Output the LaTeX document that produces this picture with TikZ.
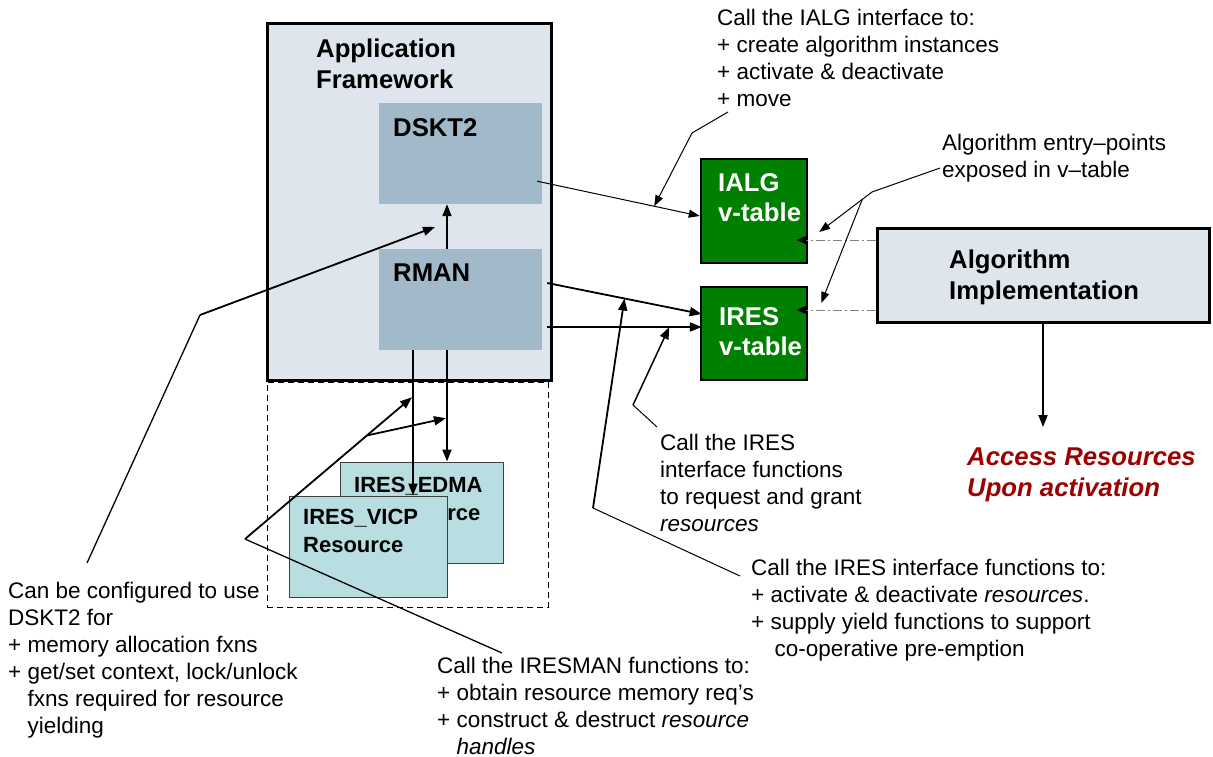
\documentclass[tikz,border=0pt]{standalone}
\usepackage{fontspec}
\setmainfont{Liberation Sans}
\usetikzlibrary{arrows.meta, calc}
\definecolor{framefill}{HTML}{DFE5EC}
\definecolor{modulefill}{HTML}{A2B9CA}
\definecolor{resourcefill}{HTML}{B8DEE2}
\definecolor{vtablegreen}{HTML}{008000}
\definecolor{accessred}{HTML}{9C0000}
\newcommand{\plusgap}{\phantom{+~}}

\begin{document}
\begin{tikzpicture}[x=1pt, y=-1pt, >={Triangle[length=12pt, width=9pt]},
    note/.style={anchor=north west, inner sep=0pt, align=left, font=\fontsize{22.5}{27}\selectfont},
    lbl/.style={anchor=north west, inner sep=0pt, align=left, font=\fontsize{25.7}{30.5}\selectfont\bfseries},
    reslbl/.style={anchor=north west, inner sep=0pt, align=left, font=\fontsize{22}{28}\selectfont\bfseries},
    framebox/.style={draw=black, line width=3pt, fill=framefill, inner sep=0pt},
    modbox/.style={fill=modulefill, minimum width=163pt, minimum height=101pt, inner sep=0pt},
    resbox/.style={draw=black!75, line width=1pt, fill=resourcefill, minimum height=101pt, inner sep=0pt},
    vtbox/.style={draw=black, line width=2.5pt, fill=vtablegreen, minimum width=106pt, inner sep=0pt},
    link/.style={->, line width=1.8pt},
    thinlink/.style={->, line width=1pt, >={Triangle[length=11pt, width=8pt]}},
    callout/.style={line width=1pt},
    entry/.style={->, draw=gray, line width=1pt, dash pattern=on 9pt off 3pt on 2pt off 3pt,
        >={Triangle[length=10pt, width=8pt, color=black]}}]
    \useasboundingbox (0,0) rectangle (1213,757);

    % ── Application framework ───────────────────────────────────────
    \node[framebox, minimum width=284pt, minimum height=356pt] (appfw) at (409,202) {};
    \node[draw, line width=1pt, dash pattern=on 6pt off 4pt, minimum width=281pt, minimum height=225pt] (resgroup) at (407.5,494.5) {};
    \node[modbox] (dskt) at (460.5,153.5) {};
    \node[modbox] (rman) at (460.5,299.5) {};
    \node[lbl] (appfwlbl) at (316,39) {Application\\Framework};
    \node[lbl] (dsktlbl) at (393,118) {DSKT2};
    \node[lbl] (rmanlbl) at (393,264) {RMAN};

    % Resources (EDMA behind VICP)
    \node[resbox, minimum width=163pt] (edma) at (421.5,512.5) {};
    \node[reslbl] (edmalbl) at (354,477) {IRES\_EDMA\\\hspace*{26pt}Resource};
    \node[resbox, minimum width=158pt] (vicp) at (368,546.5) {};
    \node[reslbl] (vicplbl) at (303,509) {IRES\_VICP\\Resource};

    % ── v-tables and algorithm ──────────────────────────────────────
    \node[vtbox, minimum height=104pt] (ialg) at (754,211) {};
    \node[vtbox, minimum height=93pt] (ires) at (754,333.5) {};
    \node[lbl, text=white] (ialglbl) at (718,173) {IALG\\v-table};
    \node[lbl, text=white] (ireslbl) at (719,307) {IRES\\v-table};
    \node[framebox, minimum width=332pt, minimum height=94pt] (algimpl) at (1043,275) {};
    \node[lbl] (algimpllbl) at (949,250) {Algorithm\\Implementation};
    \node[lbl, font=\fontsize{25.7}{30.5}\selectfont\bfseries\itshape, text=accessred] (accesslbl) at (967,448) {Access Resources\\Upon activation};

    % ── Connectors ──────────────────────────────────────────────────
    \draw[thinlink] ([shift={(-5,-23)}]dskt.south east) -- coordinate[pos=0.72] (ialgmark) ([shift={(0,5)}]ialg.west);
    \draw[link] ([shift={(5,-16.5)}]rman.east) -- coordinate[pos=0.5] (iresdiag) ([shift={(2,-19.5)}]ires.west);
    \draw[link] ([shift={(5,27.5)}]rman.east) -- coordinate[pos=0.79] (ireshor) ([shift={(2,-6.5)}]ires.west);
    \draw[link] ([xshift=-13.5pt]rman.north) -- ([xshift=-13.5pt]dskt.south);
    \coordinate (vicpin) at ([xshift=-47.5pt]rman.south);
    \coordinate (edmain) at ([xshift=-13.5pt]rman.south);
    \draw[link] (vicpin) -- (vicpin |- vicp.north);
    \draw[link] (edmain) -- (edmain |- edma.north);
    \coordinate (accesstop) at (algimpl.south |- accesslbl.north);
    \draw[link] (algimpl.south) -- ([yshift=21pt]accesstop);

    % Entry points (dash-dot)
    \coordinate (ialgentry) at ([shift={(-12,29)}]ialg.east);
    \coordinate (iresentry) at ([shift={(-12,-23.5)}]ires.east);
    \draw[entry] (algimpl.west |- ialgentry) -- (ialgentry);
    \draw[entry] (algimpl.west |- iresentry) -- (iresentry);

    % ── Callouts ────────────────────────────────────────────────────
    \coordinate (ialgfree) at (728,112);
    \draw[thinlink] (ialgfree) -- (692,133) -- (ialgmark);

    \coordinate (entryfree) at (940,168);
    \draw[thinlink] (entryfree) -- (872,192) -- coordinate[pos=0.185] (entrysplit) ([shift={(11,21)}]ialg.east);
    \draw[thinlink] (entrysplit) -- ([shift={(13,-30.5)}]ires.east);

    \coordinate (reqfree) at (657,427);
    \draw[callout] (reqfree) -- (633,405);
    \draw[link, line width=1.5pt] (633,405) -- (ireshor);

    \coordinate (actfree) at (740,576);
    \draw[callout] (actfree) -- (593,508);
    \draw[link] (593,508) -- (iresdiag);

    \coordinate (configfree) at (87,563);
    \draw[callout, line width=1.3pt] (configfree) -- (200,315);
    \draw[link] (200,315) -- (435,227);

    \coordinate (iresmanfree) at (502,653);
    \draw[callout, line width=1.3pt] (iresmanfree) -- (245,539);
    \draw[link] (245,539) -- coordinate[pos=0.73] (iresmansplit) ([shift={(-1,47)}]vicpin);
    \draw[link] (iresmansplit) -- ([shift={(-1,68)}]edmain);

    % ── Notes ───────────────────────────────────────────────────────
    \node[note] (ialgnote) at (717,9) {Call the IALG interface to:\\+ create algorithm instances\\+ activate \& deactivate\\+ move};
    \node[note] (entrynote) at (942,134) {Algorithm entry–points\\exposed in v–table};
    \node[note] (reqnote) at (660,434) {Call the IRES\\interface functions\\to request and grant\\\textit{resources}};
    \node[note] (actnote) at (751,559) {Call the IRES interface functions to:\\+ activate \& deactivate \textit{resources}.\\+ supply yield functions to support\\\plusgap\hspace*{4pt}co-operative pre-emption};
    \node[note] (confignote) at (8,582) {Can be configured to use\\DSKT2 for\\+ memory allocation fxns\\+ get/set context, lock/unlock\\\plusgap fxns required for resource\\\plusgap yielding};
    \node[note] (iresmannote) at (437,657) {Call the IRESMAN functions to:\\+ obtain resource memory req’s\\+ construct \& destruct \textit{resource}\\\plusgap\textit{handles}};
\end{tikzpicture}
\end{document}
